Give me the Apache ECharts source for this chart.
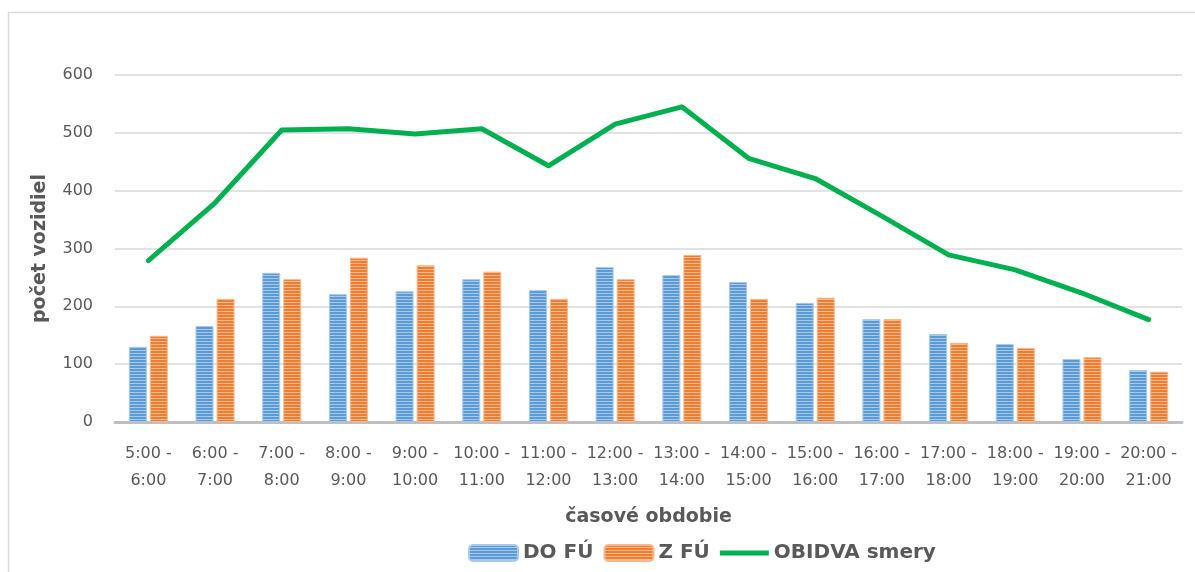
<!DOCTYPE html>
<html>
<head>
<meta charset="utf-8">
<script src="https://cdn.jsdelivr.net/npm/echarts@6/dist/echarts.min.js"></script>
<style>
  html, body { margin: 0; padding: 0; background: #fff; }
  #chart { width: 1195px; height: 572px; }
</style>
</head>
<body>
<div id="chart"></div>
<script>
// DATA
const periods = ["5:00 - 6:00", "6:00 - 7:00", "7:00 - 8:00", "8:00 - 9:00", "9:00 - 10:00",
  "10:00 - 11:00", "11:00 - 12:00", "12:00 - 13:00", "13:00 - 14:00", "14:00 - 15:00",
  "15:00 - 16:00", "16:00 - 17:00", "17:00 - 18:00", "18:00 - 19:00", "19:00 - 20:00", "20:00 - 21:00"];
const do_fu = [130, 166, 258, 221, 226, 247, 228, 268, 254, 242, 206, 178, 152, 135, 109, 90];
const z_fu = [149, 213, 247, 284, 271, 260, 213, 247, 289, 213, 215, 178, 137, 128, 112, 87];
const obidva = [279, 379, 505, 507, 498, 507, 443, 515, 545, 456, 421, 356, 289, 263, 223, 177];

const font = "'DejaVu Sans', sans-serif";
const text_color = "#595959";

// striped fill like the excel pattern
function stripes(dark, light) {
  const c = document.createElement("canvas");
  c.width = 4; c.height = 3;
  const ctx = c.getContext("2d");
  ctx.fillStyle = dark; ctx.fillRect(0, 0, 4, 2);
  ctx.fillStyle = light; ctx.fillRect(0, 2, 4, 1);
  return { image: c, repeat: "repeat" };
}

// thick line icon for the legend (empty moves keep the 49x16 box)
const line_icon = "path://M0,0L0,0M0,5.5L49,5.5L49,10.5L0,10.5ZM49,16L49,16";

const chart = echarts.init(document.getElementById("chart"), null, { renderer: "canvas" });

chart.setOption({
  animation: false,
  textStyle: { fontFamily: font },
  graphic: [{
    type: "rect", shape: { x: 8.5, y: 12.5, width: 1300, height: 700 },
    style: { fill: null, stroke: "#d9d9d9", lineWidth: 1.5 }, silent: true
  }],
  grid: { left: 115, right: 13, top: 75, bottom: 150 },
  legend: {
    left: 468, top: 543, padding: 0, itemWidth: 49, itemHeight: 16, itemGap: 10,
    textStyle: { fontFamily: font, fontSize: 20, fontWeight: "bold", color: text_color },
    data: ["DO FÚ", "Z FÚ", { name: "OBIDVA smery", icon: line_icon }]
  },
  xAxis: {
    type: "category", data: periods,
    name: "časové obdobie", nameLocation: "middle", nameGap: 86,
    nameTextStyle: { fontSize: 19, fontWeight: "bold", color: text_color, fontFamily: font },
    axisLine: { lineStyle: { color: "#bfbfbf", width: 3 } },
    axisTick: { show: false },
    axisLabel: {
      interval: 0, fontSize: 16, color: text_color, lineHeight: 27, margin: 18,
      formatter: (v) => v.replace(" - ", " -\n")
    }
  },
  yAxis: {
    type: "value", min: 0, max: 600, interval: 100,
    name: "počet vozidiel", nameLocation: "middle", nameGap: 65, nameRotate: 90,
    nameTextStyle: { fontSize: 19, fontWeight: "bold", color: text_color, fontFamily: font },
    axisLabel: { fontSize: 16, color: text_color, margin: 22 },
    splitLine: { lineStyle: { color: "#d9d9d9", width: 1.5 } }
  },
  series: [
    {
      name: "DO FÚ", type: "bar", data: do_fu, barWidth: 18, barGap: "17%",
      itemStyle: { color: stripes("#5b9bd5", "#a9c9ec"), borderColor: "#a9c9ec", borderWidth: 1 }
    },
    {
      name: "Z FÚ", type: "bar", data: z_fu, barWidth: 18,
      itemStyle: { color: stripes("#ed7d31", "#f6b98e"), borderColor: "#f6b98e", borderWidth: 1 }
    },
    {
      name: "OBIDVA smery", type: "line", data: obidva, symbol: "none",
      lineStyle: { color: "#00b050", width: 5, cap: "round", join: "round" },
      itemStyle: { color: "#00b050" }
    }
  ]
});
</script>
</body>
</html>
